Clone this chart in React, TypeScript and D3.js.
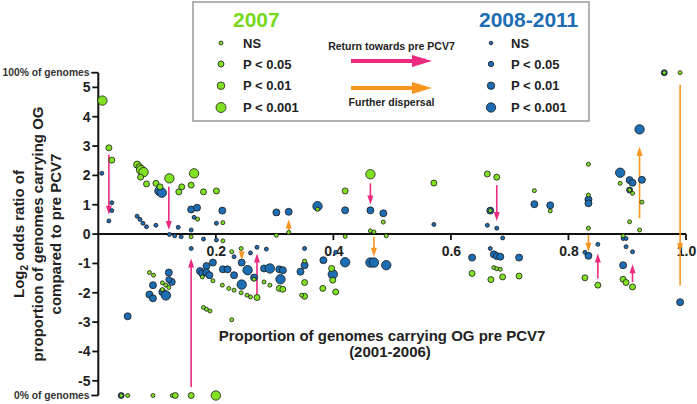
import React from "react";
import * as d3 from "d3";

const W = 697;
const H = 404;

// [proportion pre PCV7, log2 odds ratio, significance class 0=NS 1=P<0.05 2=P<0.01 3=P<0.001]
const green2007: [number, number, number][] = [
  [0.007, 4.55, 3], [0.018, 2.94, 1], [0.023, 2.52, 1], [0.066, 2.37, 2], [0.070, 2.28, 2],
  [0.073, 2.18, 3], [0.077, 2.11, 3], [0.072, 1.94, 1], [0.082, 1.71, 1], [0.098, 1.73, 1],
  [0.105, 1.61, 1], [0.121, 1.90, 3], [0.137, 1.44, 1], [0.142, 1.61, 1], [0.158, 1.67, 1],
  [0.163, 2.07, 3], [0.179, 1.44, 1], [0.201, 1.47, 1], [0.158, -0.09, 0], [0.169, 0.51, 0],
  [0.212, 0.39, 0], [0.212, -0.23, 0], [0.303, -0.04, 0], [0.324, 0.06, 0], [0.373, 0.85, 0],
  [0.420, 1.47, 1], [0.420, -0.08, 0], [0.463, 2.04, 3], [0.463, 0.11, 0], [0.469, 0.07, 0],
  [0.485, 0.41, 0], [0.490, -0.06, 0], [0.571, 1.74, 1], [0.662, 2.05, 1], [0.678, 1.94, 1],
  [0.667, 0.80, 0], [0.673, -1.14, 0], [0.678, -1.18, 0], [0.684, -1.20, 0], [0.636, -1.34, 1],
  [0.668, -1.55, 1], [0.688, -1.46, 1], [0.716, -1.43, 1], [0.742, 1.48, 0], [0.769, 0.79, 0],
  [0.834, 2.38, 0], [0.834, 1.33, 0], [0.834, 0.20, 0], [0.828, -1.49, 1], [0.850, -1.74, 1],
  [0.888, 1.73, 0], [0.904, 1.50, 0], [0.909, 1.39, 0], [0.925, 1.09, 0], [0.904, 0.42, 0],
  [0.921, 0.14, 0], [0.893, -0.06, 0], [0.893, -1.54, 1], [0.898, -1.65, 1], [0.909, -1.80, 1],
  [0.963, 5.5, 0], [0.990, 5.5, 0], [0.087, -1.31, 0], [0.094, -1.40, 0], [0.109, -1.66, 0],
  [0.115, -1.74, 0], [0.120, -1.82, 0], [0.109, -1.89, 0], [0.177, -1.46, 0], [0.195, -1.59, 0],
  [0.211, -1.74, 0], [0.222, -1.85, 0], [0.231, -1.91, 0], [0.243, -2.00, 0], [0.253, -2.08, 0],
  [0.259, -2.14, 0], [0.270, -2.16, 1], [0.282, -1.63, 0], [0.292, -1.74, 0], [0.308, -1.85, 1],
  [0.314, -1.88, 1], [0.179, -2.50, 0], [0.184, -2.56, 0], [0.190, -2.62, 0], [0.227, -2.92, 0],
  [0.227, -0.60, 0], [0.243, -0.49, 0], [0.265, -1.54, 0], [0.351, -0.92, 0], [0.351, -1.65, 1],
  [0.351, -2.12, 1], [0.346, -2.08, 0], [0.382, -1.85, 1], [0.397, -1.17, 1], [0.399, -1.57, 1],
  [0.404, -1.97, 1], [0.039, -5.5, 0], [0.050, -5.5, 0], [0.093, -5.5, 0], [0.126, -5.5, 0],
  [0.131, -5.5, 1], [0.158, -5.5, 1], [0.200, -5.5, 3],
];

const blue2008: [number, number, number][] = [
  [0.006, 2.07, 0], [0.023, 1.07, 0], [0.023, 0.80, 0], [0.018, 0.45, 0], [0.104, 1.47, 3],
  [0.108, 1.41, 3], [0.066, 0.61, 0], [0.071, 0.50, 0], [0.076, 0.37, 0], [0.082, 0.25, 0],
  [0.098, 0.30, 0], [0.121, -0.01, 0], [0.130, -0.06, 0], [0.136, 0.23, 0], [0.141, -0.09, 0],
  [0.158, 0.14, 0], [0.158, -0.49, 0], [0.158, 0.84, 2], [0.168, 0.90, 2], [0.163, 0.57, 0],
  [0.179, -0.17, 0], [0.201, 0.37, 0], [0.211, 0.80, 2], [0.201, -0.20, 0], [0.303, 0.74, 2],
  [0.324, 0.76, 2], [0.373, 0.95, 3], [0.420, 0.81, 2], [0.463, 0.81, 2], [0.485, 0.71, 2],
  [0.571, 0.33, 0], [0.667, 0.80, 2], [0.662, 0.30, 0], [0.678, 0.20, 0], [0.688, -0.13, 0],
  [0.667, -0.49, 0], [0.673, -0.69, 2], [0.678, -0.75, 2], [0.684, -0.77, 2], [0.636, -0.80, 2],
  [0.716, -0.80, 2], [0.742, 1.02, 2], [0.769, 0.98, 2], [0.834, 1.18, 2], [0.834, 1.05, 2],
  [0.828, -0.62, 0], [0.834, -0.74, 2], [0.850, -0.35, 0], [0.888, 2.09, 3], [0.904, 1.84, 2],
  [0.909, 1.75, 2], [0.904, 1.50, 1], [0.925, 1.85, 2], [0.921, 3.57, 3], [0.893, -0.15, 0],
  [0.898, -0.15, 0], [0.898, -0.43, 0], [0.909, -0.60, 0], [0.893, -1.06, 2], [0.990, -2.32, 2],
  [0.963, 5.5, 1], [0.039, -5.5, 1], [0.120, -1.31, 2], [0.125, -1.63, 2], [0.120, -1.55, 1],
  [0.093, -1.74, 2], [0.087, -2.06, 2], [0.093, -2.19, 2], [0.109, -1.97, 2], [0.115, -2.09, 3],
  [0.050, -2.80, 2], [0.173, -1.26, 2], [0.177, -1.34, 2], [0.184, -1.09, 2], [0.184, -1.31, 2],
  [0.189, -1.40, 2], [0.195, -0.97, 2], [0.212, -1.20, 2], [0.220, -1.20, 2], [0.231, -1.40, 2],
  [0.254, -1.23, 3], [0.244, -1.72, 3], [0.265, -1.48, 2], [0.282, -1.17, 2], [0.292, -1.17, 3],
  [0.308, -1.20, 2], [0.310, -1.54, 3], [0.314, -1.23, 2], [0.231, -0.77, 0], [0.244, -0.97, 2],
  [0.259, -0.64, 0], [0.270, -0.45, 0], [0.286, -0.51, 0], [0.351, -0.49, 0], [0.351, -1.06, 2],
  [0.344, -1.28, 2], [0.383, -0.89, 2], [0.420, -0.96, 3], [0.404, -0.62, 0], [0.399, -1.37, 3],
  [0.463, -0.97, 3], [0.469, -0.97, 3], [0.490, -1.06, 3],
];

// [x, from y, to y]
const returnArrows: [number, number, number][] = [
  [0.018, 2.70, 0.66], [0.120, 1.61, 0.14], [0.158, -5.21, -0.83], [0.270, -2.19, -0.66],
  [0.463, 1.73, 1.01], [0.678, 1.67, 0.45], [0.850, -1.51, -0.66], [0.909, -1.63, -1.03],
];
const dispersalArrows: [number, number, number][] = [
  [0.324, 0.14, 0.50], [0.244, -0.60, -0.89], [0.469, -0.09, -0.77], [0.834, -0.03, -0.60],
  [0.921, 0.54, 2.98], [0.990, 5.09, -0.62],
];
// headless continuation of a dispersal arrow: [x, from y, to y]
const dispersalTails: [number, number, number][] = [[0.990, -0.62, -1.75]];

const yTicks = [-5, -4, -3, -2, -1, 0, 1, 2, 3, 4, 5];
const xTicks = [0.2, 0.4, 0.6, 0.8, 1.0];
const sigLabels = ["NS", "P < 0.05", "P < 0.01", "P < 0.001"];
const yEnds = [
  { v: 5.5, label: "100% of genomes" },
  { v: -5.5, label: "0% of genomes" },
];

const GREEN = "#80E022";
const GREEN_T = "#78D81C";
const BLUE = "#1C6DB3";
const PINK = "#EC2A80";
const ORANGE = "#F7951F";
const FONT = "'Liberation Sans', Arial, Helvetica, sans-serif";
const radius = [2, 3, 3.5, 4.7];

function Arrow({ x1, y1, x2, y2, color, w, hl, hw }: any) {
  const dx = x2 - x1, dy = y2 - y1;
  const len = Math.sqrt(dx * dx + dy * dy) || 1;
  const ux = dx / len, uy = dy / len;
  const bx = x2 - ux * hl, by = y2 - uy * hl;
  const px = -uy, py = ux;
  const pts = `${x2},${y2} ${bx + px * hw},${by + py * hw} ${bx - px * hw},${by - py * hw}`;
  return (
    <g>
      <line x1={x1} y1={y1} x2={bx + ux * 1} y2={by + uy * 1} stroke={color} strokeWidth={w} />
      <polygon points={pts} fill={color} />
    </g>
  );
}

export default function App() {
  const x = d3.scaleLinear().domain([0, 1]).range([98.3, 686]);
  const y = d3.scaleLinear().domain([-5.5, 5.5]).range([395.5, 72.7]);
  const x0 = x(0);
  const yTop = y(5.5), yBot = y(-5.5);

  return (
    <svg width={W} height={H} style={{ position: "absolute", left: 0, top: 0, background: "#fff" }} fontFamily={FONT}>
      <rect width={W} height={H} fill="#fff" />
      {/* Y axis title */}
      <g fontWeight="bold" fontSize={15} fill="#222" textAnchor="middle">
        <text transform={`translate(23.5,234) rotate(-90)`}>
          <tspan>Log</tspan>
          <tspan fontSize={10} dy={4}>2</tspan>
          <tspan dy={-4}> odds ratio of</tspan>
        </text>
        <text transform={`translate(42.5,234) rotate(-90)`}>proportion of genomes carrying OG</text>
        <text transform={`translate(61,234) rotate(-90)`}>compared to pre PCV7</text>
      </g>
      {/* X axis title */}
      <g fontWeight="bold" fontSize={15} fill="#222" textAnchor="middle">
        <text x={382} y={341}>Proportion of genomes carrying OG pre PCV7</text>
        <text x={390} y={357}>(2001-2006)</text>
      </g>
      {/* Axes */}
      <line x1={x0} y1={yTop} x2={x0} y2={yBot} stroke="#111" strokeWidth={2} />
      <line x1={x0} y1={y(0)} x2={x(1)} y2={y(0)} stroke="#111" strokeWidth={2} />
      {yTicks.map((t) => (
        <g key={t}>
          <line x1={x0 - 6} x2={x0} y1={y(t)} y2={y(t)} stroke="#111" strokeWidth={1.8} />
          <text x={90.5} y={y(t) + 5} textAnchor="end" fontSize={14} fontWeight="bold" fill="#222">
            {t}
          </text>
        </g>
      ))}
      {yEnds.map((e) => (
        <g key={e.label}>
          <line x1={x0 - 7} x2={x0} y1={y(e.v)} y2={y(e.v)} stroke="#111" strokeWidth={1.8} />
          <text x={89.5} y={y(e.v) + 3.6} textAnchor="end" fontSize={10.3} fontWeight="bold" fill="#333">
            {e.label}
          </text>
        </g>
      ))}
      {xTicks.map((t) => (
        <g key={t}>
          <line x1={x(t)} x2={x(t)} y1={y(0)} y2={y(0) + 6} stroke="#111" strokeWidth={1.8} />
          <text x={x(t) + 0.5} y={256} textAnchor="middle" fontSize={14} fontWeight="bold" fill="#222">
            {t.toFixed(1)}
          </text>
        </g>
      ))}
      {/* Arrows */}
      {dispersalTails.map((a, i) => (
        <line key={"t" + i} x1={x(a[0])} x2={x(a[0])} y1={y(a[1])} y2={y(a[2])} stroke={ORANGE} strokeWidth={1.6} />
      ))}
      {returnArrows.map((a, i) => (
        <Arrow key={"r" + i} x1={x(a[0])} y1={y(a[1])} x2={x(a[0])} y2={y(a[2])} color={PINK} w={1.6} hl={9} hw={3} />
      ))}
      {dispersalArrows.map((a, i) => (
        <Arrow key={"d" + i} x1={x(a[0])} y1={y(a[1])} x2={x(a[0])} y2={y(a[2])} color={ORANGE} w={1.6} hl={9} hw={3} />
      ))}
      {/* Points */}
      {blue2008.map((p, i) => (
        <circle key={"b" + i} cx={x(p[0])} cy={y(p[1])} r={radius[p[2]]} fill={BLUE} stroke="#1a1a1a" strokeWidth={0.8} />
      ))}
      {green2007.map((p, i) => (
        <circle key={"g" + i} cx={x(p[0])} cy={y(p[1])} r={radius[p[2]]} fill={GREEN} stroke="#1a1a1a" strokeWidth={0.8} />
      ))}
      {/* Legend */}
      <rect x={193} y={2} width={396} height={119} fill="#fff" stroke="#999" strokeWidth={1.5} />
      <text x={233} y={27} fontSize={21} fontWeight="bold" fill={GREEN_T}>2007</text>
      <text x={479} y={27} fontSize={21} fontWeight="bold" fill={BLUE}>2008-2011</text>
      {sigLabels.map((s, i) => {
        const cy = [43, 64, 85.7, 107.5][i];
        return (
          <g key={s}>
            <circle cx={221} cy={cy} r={[2, 3, 3.8, 5][i]} fill={GREEN} stroke="#1a1a1a" strokeWidth={0.8} />
            <text x={243} y={cy + 4.5} fontSize={13} fontWeight="bold" fill="#222">{s}</text>
            <circle cx={491} cy={cy} r={[1.8, 2.7, 3.7, 4.7][i]} fill={BLUE} stroke="#1a1a1a" strokeWidth={0.8} />
            <text x={511} y={cy + 4.5} fontSize={13} fontWeight="bold" fill="#222">{s}</text>
          </g>
        );
      })}
      <text x={391.5} y={50} textAnchor="middle" fontSize={10.5} fontWeight="bold" fill="#222">Return towards pre PCV7</text>
      <Arrow x1={351} y1={61} x2={432} y2={61} color={PINK} w={4} hl={20} hw={6} />
      <Arrow x1={351} y1={88} x2={432} y2={88} color={ORANGE} w={4} hl={20} hw={6} />
      <text x={391.5} y={106} textAnchor="middle" fontSize={10.5} fontWeight="bold" fill="#222">Further dispersal</text>
    </svg>
  );
}
